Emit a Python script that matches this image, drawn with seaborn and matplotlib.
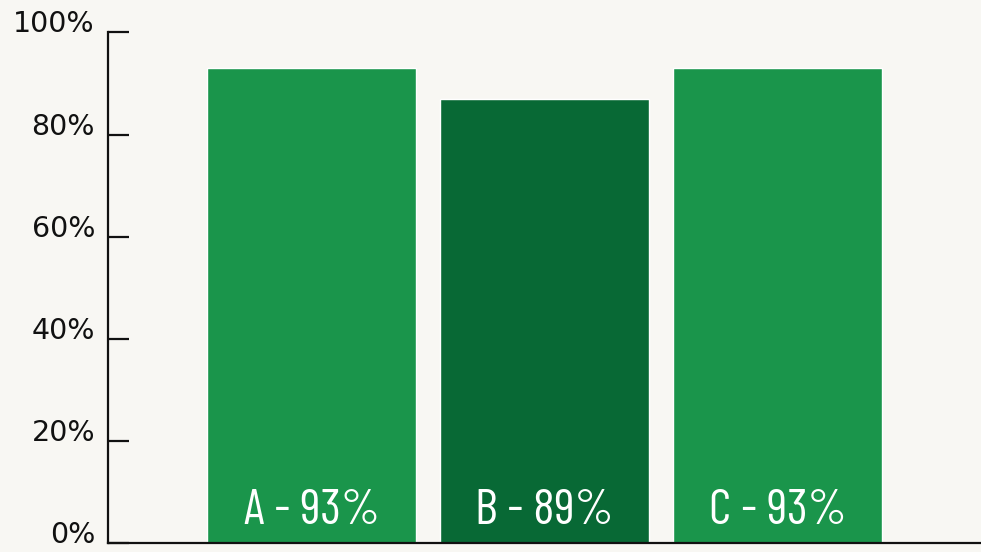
import matplotlib
matplotlib.use("Agg")
import matplotlib.pyplot as plt
from matplotlib import font_manager as fm
import seaborn as sns
import pandas as pd

categories = ["A", "B", "C"]
values = [93, 87, 93]
bar_labels = ["A - 93%", "B - 89%", "C - 93%"]
bar_colors = ["#1a954b", "#086935", "#1a954b"]
y_ticks = [0, 20, 40, 60, 80, 100]
y_tick_labels = ["0%", "20%", "40%", "60%", "80%", "100%"]

sns.set_theme(style="white")
plt.rcParams["font.family"] = ["DejaVu Sans"]

available = set(f.name for f in fm.fontManager.ttflist)
cond_font = None
for cand in ["Barlow Condensed", "Saira Extra Condensed", "Saira Condensed", "Oswald",
             "Roboto Condensed", "Pathway Gothic One", "Fjalla One", "Abel",
             "Liberation Sans Narrow", "DejaVu Sans"]:
    if cand in available:
        cond_font = cand
        break

df = pd.DataFrame({"cat": categories, "val": values})

fig = plt.figure(figsize=(9.81, 5.52), dpi=100, facecolor="#f8f7f3")
ax = fig.add_axes([107.5 / 981, 9 / 552, 1 - 107.5 / 981, (543 - 32.5) / 552])
ax.set_facecolor("none")

sns.barplot(data=df, x="cat", y="val", hue="cat", palette=bar_colors,
            width=0.897, saturation=1, legend=False, ax=ax)

ax.set_xlim(-0.8755, -0.8755 + 873.5 / 233)
ax.set_ylim(0, 100)
ax.set_xlabel("")
ax.set_ylabel("")
ax.set_xticks([])
ax.set_yticks(y_ticks)
ax.set_yticklabels(y_tick_labels, fontsize=20.5, color="#111111")
for lab in ax.get_yticklabels():
    lab.set_va("baseline")
ax.tick_params(axis="y", direction="in", length=15, width=1.6, color="#111111",
               pad=9, left=True)

for s in ["top", "right"]:
    ax.spines[s].set_visible(False)
for s in ["left", "bottom"]:
    ax.spines[s].set_color("#111111")
    ax.spines[s].set_linewidth(1.6)

for i, lab in enumerate(bar_labels):
    ax.text(i, 3.7, lab, ha="center", va="baseline", color="white",
            fontsize=36, family=[cond_font, "DejaVu Sans"], fontweight="normal")

fig.savefig("out.png", dpi=100, facecolor=fig.get_facecolor())
